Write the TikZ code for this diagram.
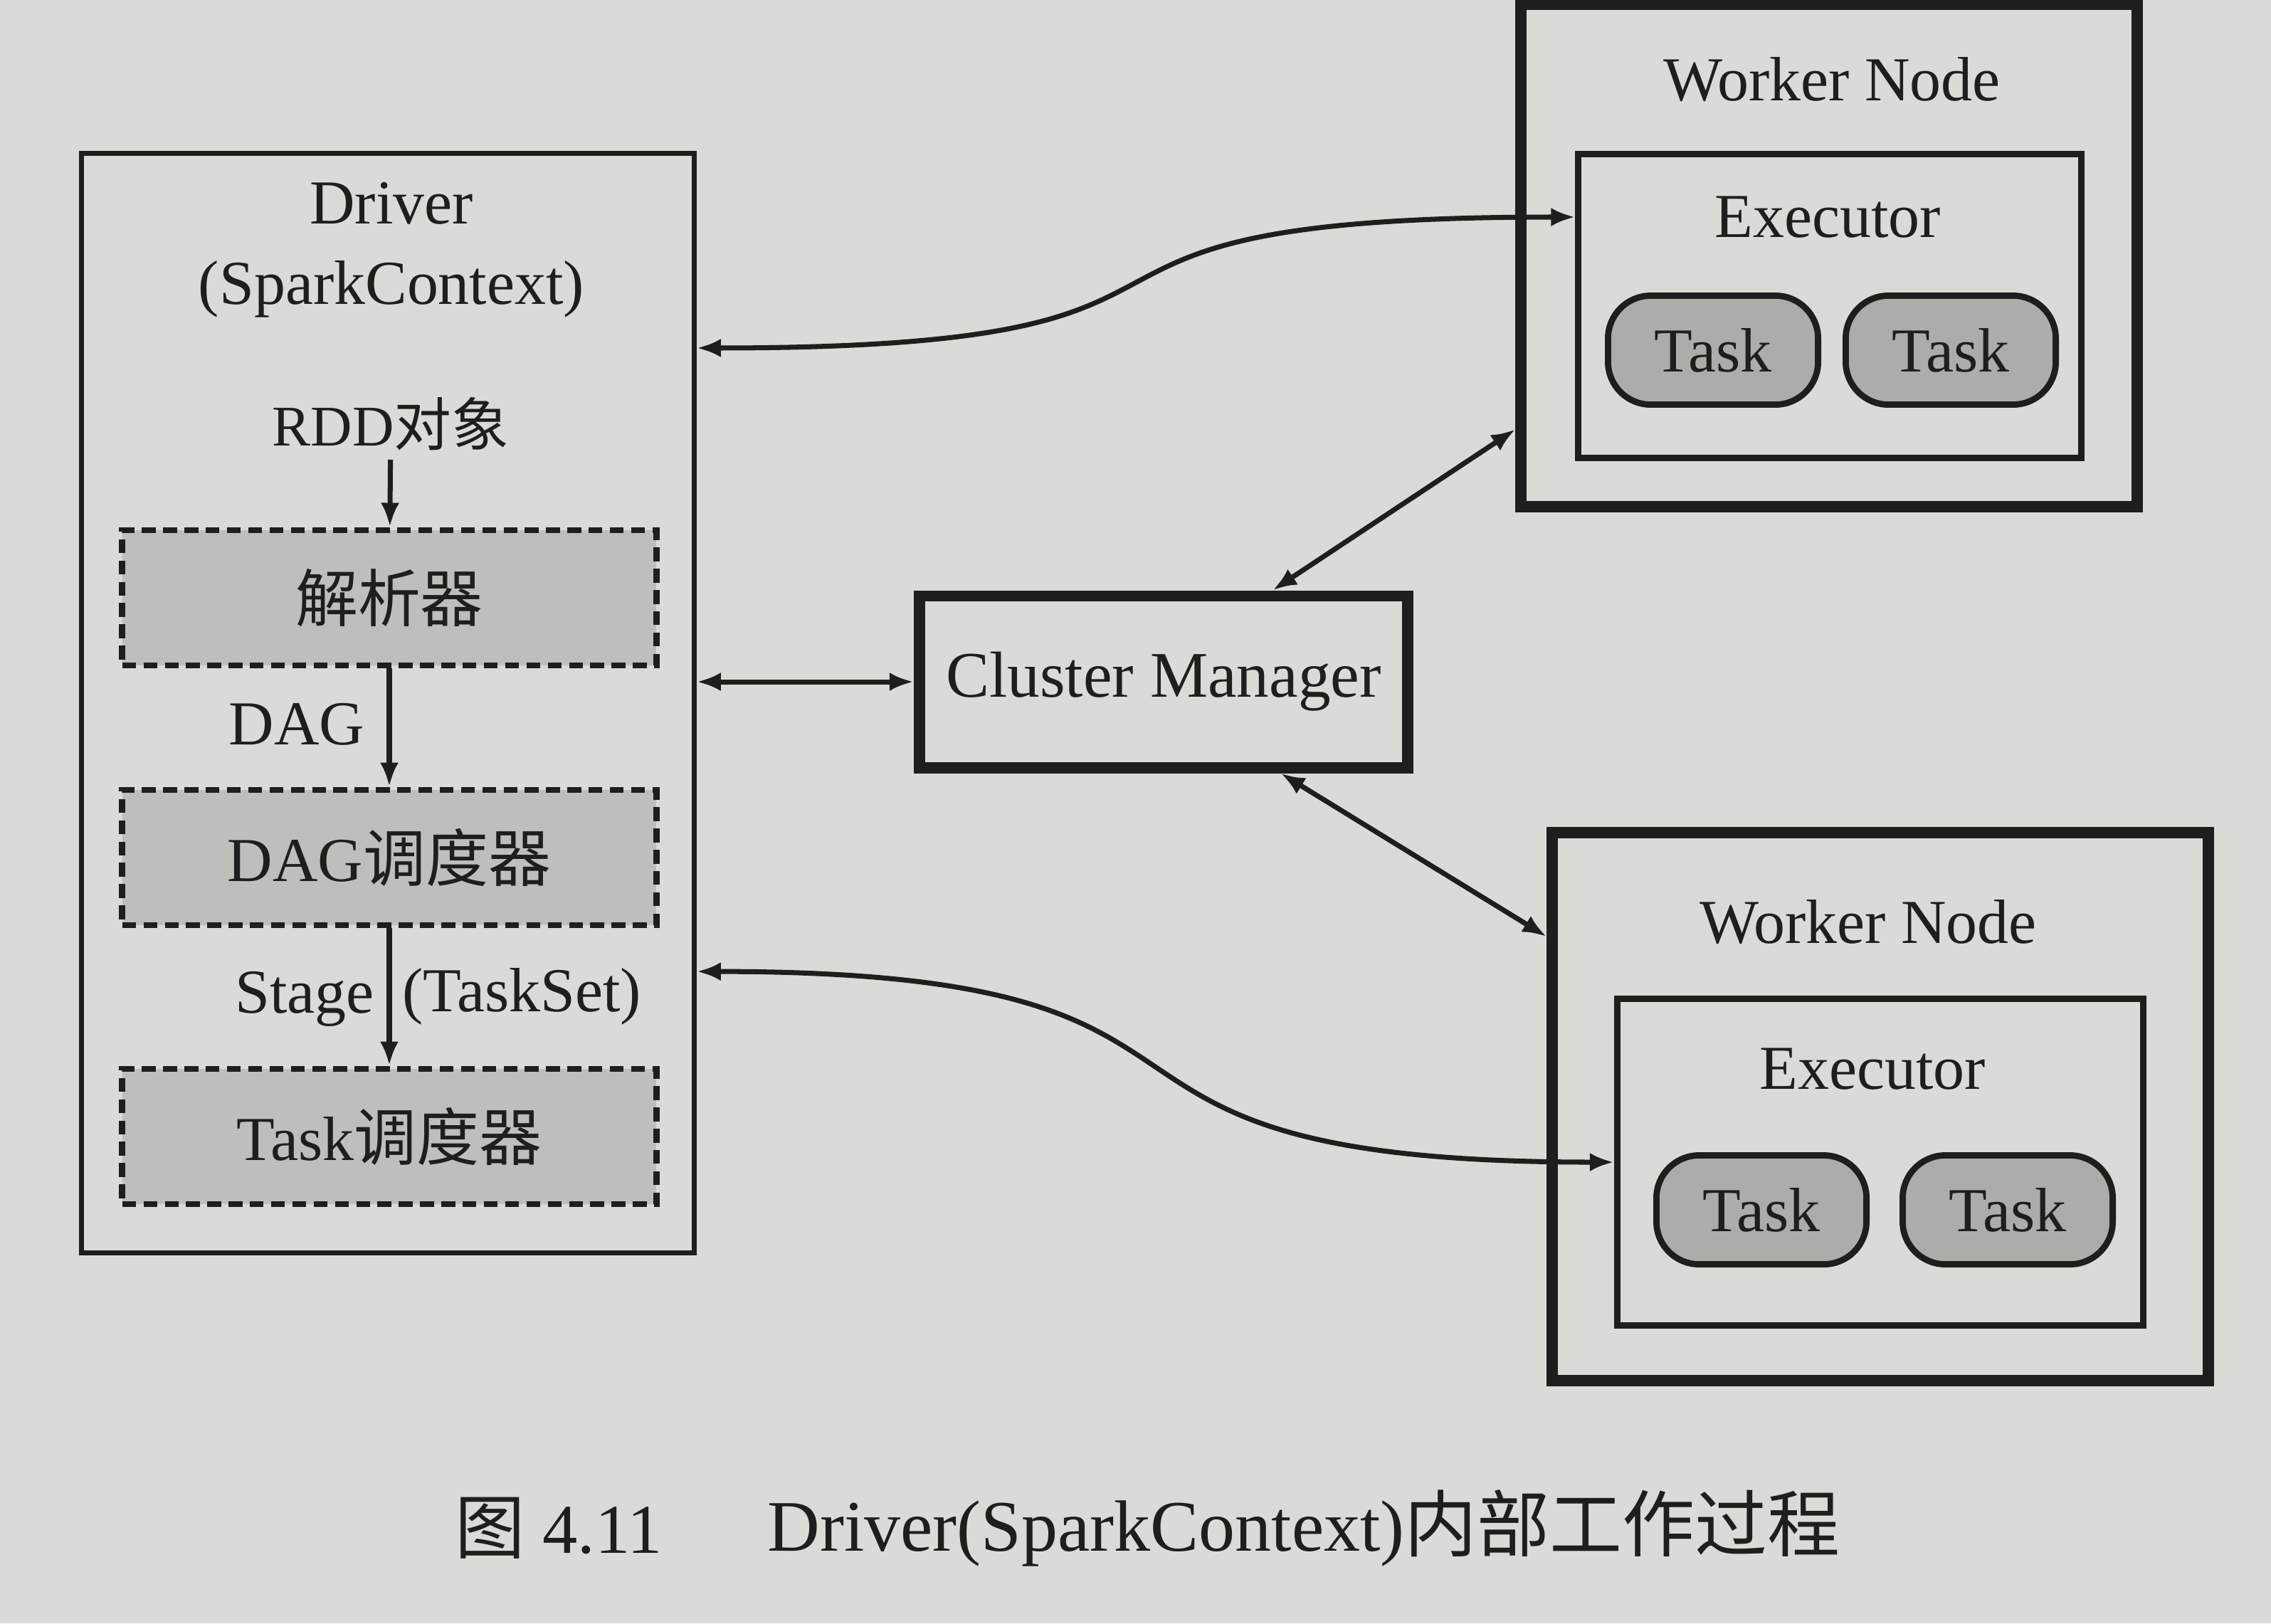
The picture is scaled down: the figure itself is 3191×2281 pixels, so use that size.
\documentclass[tikz,border=0pt]{standalone}
\usepackage{fontspec}
\setmainfont{Liberation Serif}
\newfontfamily\cjk{Noto Sans CJK SC}
\usetikzlibrary{arrows.meta}
\definecolor{paper}{RGB}{218,218,215}
\definecolor{shade}{RGB}{190,190,187}
\definecolor{taskgray}{RGB}{172,172,169}
\definecolor{ink}{RGB}{30,30,30}

\begin{document}
\begin{tikzpicture}[x=0.01cm,y=-0.01cm,>={Latex[length=0.34cm,width=0.26cm]},
  txt/.style={font=\fontsize{25}{32}\selectfont, text=ink},
  box/.style={draw=ink, inner sep=0pt},
  dbox/.style={draw=ink, fill=shade, line width=2.5pt, dash pattern=on 5.5pt off 3pt, minimum width=7.5cm, minimum height=1.9cm, txt},
  tbox/.style={draw=ink, fill=taskgray, line width=2.5pt, rounded corners=0.6cm, minimum width=2.95cm, minimum height=1.53cm, txt},
  arr/.style={draw=ink, line width=2pt}
]
\fill[paper] (0,0) rectangle (3191,2281);
\useasboundingbox (0,0) rectangle (3191,2281);

\node [box, line width=2pt, minimum width=8.6cm, minimum height=15.45cm] (drv) at (545,988) {};
\node [txt, align=center] (drvt) at (550,351) {Driver\\(SparkContext)};
\node [txt, font=\fontsize{23}{28}\selectfont] (rdd) at (549,596) {RDD{\cjk 对象}};
\node [dbox] (prs) at (547,840) {\cjk 解析器};
\node [dbox] (dag) at (547,1205) {DAG{\cjk 调度器}};
\node [dbox] (tsk) at (547,1597) {Task{\cjk 调度器}};
\node [txt] (dagl) at (417,1018) {DAG};
\node [txt] (stg) at (428,1404) {Stage};
\node [txt] (tset) at (733,1400) {(TaskSet)};
\draw [arr,->] (rdd) -- (prs);
\draw [arr,->] (prs) -- (dag);
\draw [arr,->] (dag) -- (tsk);

\node [box, line width=4.5pt, minimum width=6.86cm, minimum height=2.41cm, txt, font=\fontsize{26}{32}\selectfont] (cm) at (1635,958) {Cluster Manager};

\node [box, line width=4.5pt, minimum width=8.65cm, minimum height=7.06cm] (w1) at (2570,359) {};
\node [txt] (w1t) at (2574,112) {Worker Node};
\node [box, line width=2.5pt, minimum width=7.06cm, minimum height=4.27cm] (e1) at (2571,430) {};
\node [txt] (e1t) at (2568,305) {Executor};
\node [tbox] (t11) at (2407,492) {Task};
\node [tbox] (t12) at (2741,492) {Task};

\node [box, line width=4.5pt, minimum width=9.21cm, minimum height=7.69cm] (w2) at (2642,1555) {};
\node [txt] (w2t) at (2625,1296) {Worker Node};
\node [box, line width=2.5pt, minimum width=7.39cm, minimum height=4.58cm] (e2) at (2642,1633) {};
\node [txt] (e2t) at (2631,1502) {Executor};
\node [tbox] (t21) at (2475,1700) {Task};
\node [tbox] (t22) at (2821,1700) {Task};

\draw [arr,<->] (drv.49) .. controls +(860,0) and +(-860,0) .. (e1.west |- e1t);
\draw [arr,<->] (drv.east |- cm.west) -- (cm.west);
\draw [arr,<->] (drv.-41) .. controls +(860,0) and +(-860,0) .. (e2.west);
\draw [arr,<->] (cm.40) -- (w1.209);
\draw [arr,<->] (cm.-38) -- (w2.153);

\node [text=ink, font=\fontsize{28}{34}\selectfont] (fig) at (785,2147) {{\cjk 图} 4.11};
\node [text=ink, font=\fontsize{29}{34}\selectfont] (cap) at (1832,2147) {Driver(SparkContext){\cjk 内部工作过程}};
\end{tikzpicture}
\end{document}
